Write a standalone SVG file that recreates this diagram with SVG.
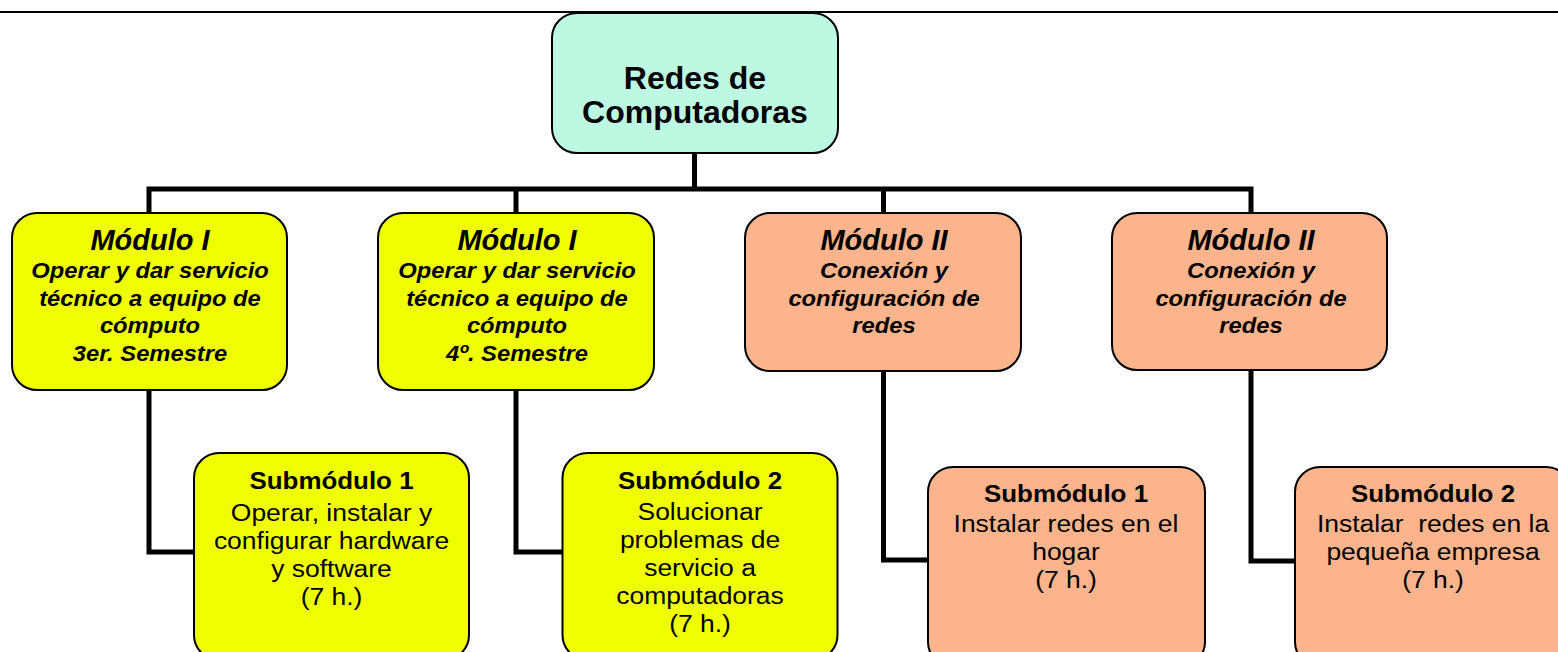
<svg xmlns="http://www.w3.org/2000/svg" width="1558" height="652" viewBox="0 0 1558 652">
<style>
.box{stroke:#000;stroke-width:2}
.mint{fill:#BDF9E2}
.yel{fill:#F0FF00}
.sal{fill:#FBB48B}
.conn{fill:none;stroke:#000;stroke-width:5;stroke-linejoin:miter}
text{font-family:"Liberation Sans",Arial,sans-serif;text-anchor:middle;fill:#000}
.root{font-size:32px;font-weight:bold}
.mt{font-size:29px;font-weight:bold;font-style:italic}
.ms{font-size:22px;font-weight:bold;font-style:italic}
.st{font-size:24px;font-weight:bold}
.sb{font-size:24.5px}
</style>
<rect width="1558" height="652" fill="#fff"/>
<g id="topline"><line x1="0" y1="12" x2="1558" y2="12" stroke="#000" stroke-width="2"/></g>
<g id="connectors">
<path class="conn" d="M694.5 153 V189"/>
<path class="conn" d="M149 213 V189 H1251 V213"/>
<path class="conn" d="M516 189 V213"/>
<path class="conn" d="M883.5 189 V213"/>
<path class="conn" d="M149 390 V552 H194"/>
<path class="conn" d="M516 390 V552 H563"/>
<path class="conn" d="M883.5 371 V560 H928"/>
<path class="conn" d="M1251 371 V561 H1295"/>
</g>
<g id="root">
<rect class="box mint" x="552" y="13" width="286" height="140" rx="25"/>
<text class="root" x="695" y="89">Redes de</text>
<text class="root" x="695" y="123">Computadoras</text>
</g>
<g id="mod1">
<rect class="box yel" x="12" y="213" width="275" height="177" rx="25"/>
<text class="mt" x="150" y="250">Módulo I</text>
<g transform="translate(150 0) scale(1.08 1)">
<text class="ms" x="0" y="278">Operar y dar servicio</text>
<text class="ms" x="0" y="306">técnico a equipo de</text>
<text class="ms" x="0" y="333">cómputo</text>
<text class="ms" x="0" y="361">3er. Semestre</text>
</g>
</g>
<g id="mod2">
<rect class="box yel" x="378" y="213" width="276" height="177" rx="25"/>
<text class="mt" x="517" y="250">Módulo I</text>
<g transform="translate(517 0) scale(1.08 1)">
<text class="ms" x="0" y="278">Operar y dar servicio</text>
<text class="ms" x="0" y="306">técnico a equipo de</text>
<text class="ms" x="0" y="333">cómputo</text>
<text class="ms" x="0" y="361">4º. Semestre</text>
</g>
</g>
<g id="mod3">
<rect class="box sal" x="745" y="213" width="276" height="158" rx="25"/>
<text class="mt" x="884" y="250">Módulo II</text>
<g transform="translate(884 0) scale(1.08 1)">
<text class="ms" x="0" y="278">Conexión y</text>
<text class="ms" x="0" y="306">configuración de</text>
<text class="ms" x="0" y="333">redes</text>
</g>
</g>
<g id="mod4">
<rect class="box sal" x="1112" y="213" width="275" height="157" rx="25"/>
<text class="mt" x="1251" y="250">Módulo II</text>
<g transform="translate(1251 0) scale(1.08 1)">
<text class="ms" x="0" y="278">Conexión y</text>
<text class="ms" x="0" y="306">configuración de</text>
<text class="ms" x="0" y="333">redes</text>
</g>
</g>
<g id="sub1">
<rect class="box yel" x="194" y="453" width="275" height="207" rx="25"/>
<g transform="translate(331.5 0) scale(1.08 1)"><text class="st" x="0" y="489">Submódulo 1</text></g>
<g transform="translate(331.5 0) scale(1.08 1)">
<text class="sb" x="0" y="521.5">Operar, instalar y</text>
<text class="sb" x="0" y="549.5">configurar hardware</text>
<text class="sb" x="0" y="577.5">y software</text>
<text class="sb" x="0" y="605.5">(7 h.)</text>
</g>
</g>
<g id="sub2">
<rect class="box yel" x="562.5" y="453" width="275" height="207" rx="25"/>
<g transform="translate(700 0) scale(1.08 1)"><text class="st" x="0" y="489">Submódulo 2</text></g>
<g transform="translate(700 0) scale(1.08 1)">
<text class="sb" x="0" y="520.5">Solucionar</text>
<text class="sb" x="0" y="548.5">problemas de</text>
<text class="sb" x="0" y="576.5">servicio a</text>
<text class="sb" x="0" y="604.5">computadoras</text>
<text class="sb" x="0" y="632.5">(7 h.)</text>
</g>
</g>
<g id="sub3">
<rect class="box sal" x="928" y="467" width="277" height="200" rx="25"/>
<g transform="translate(1066 0) scale(1.08 1)"><text class="st" x="0" y="502">Submódulo 1</text></g>
<g transform="translate(1066 0) scale(1.08 1)">
<text class="sb" x="0" y="532">Instalar redes en el</text>
<text class="sb" x="0" y="560">hogar</text>
<text class="sb" x="0" y="588">(7 h.)</text>
</g>
</g>
<g id="sub4">
<rect class="box sal" x="1295" y="467" width="276" height="200" rx="25"/>
<g transform="translate(1433 0) scale(1.08 1)"><text class="st" x="0" y="502">Submódulo 2</text></g>
<g transform="translate(1433 0) scale(1.08 1)">
<text class="sb" x="0" y="532">Instalar&#160; redes en la</text>
<text class="sb" x="0" y="560">pequeña empresa</text>
<text class="sb" x="0" y="588">(7 h.)</text>
</g>
</g>
</svg>
